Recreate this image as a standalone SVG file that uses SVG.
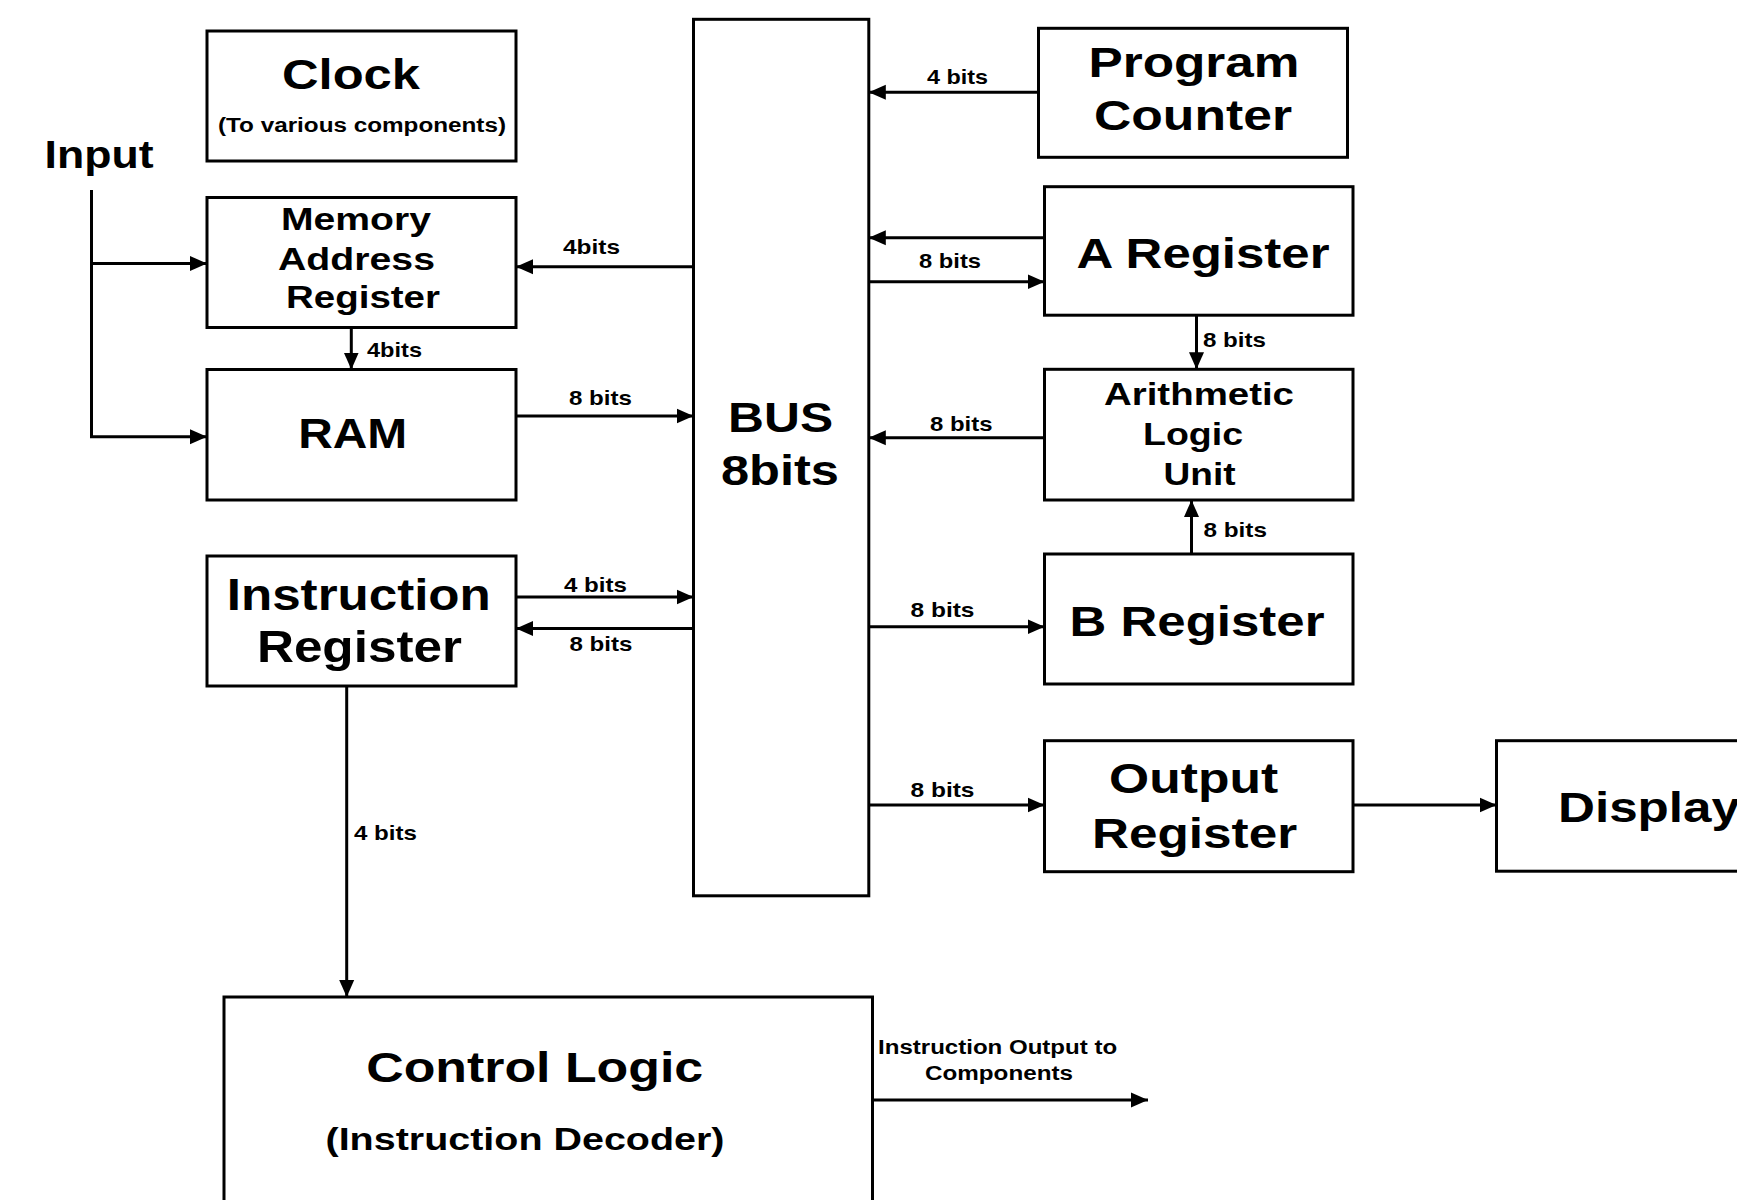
<svg xmlns="http://www.w3.org/2000/svg" width="1737" height="1200" viewBox="0 0 1737 1200">
  <defs>
    <marker id="arrow" markerUnits="userSpaceOnUse" markerWidth="18" markerHeight="16" refX="17" refY="8" orient="auto">
      <path d="M0,0.5 L17,8 L0,15.5 z" fill="#000"/>
    </marker>
    <style>
      .box { fill: #fff; stroke: #000; stroke-width: 3; }
      .wire { fill: none; stroke: #000; stroke-width: 3; marker-end: url(#arrow); }
      .plain { fill: none; stroke: #000; stroke-width: 3; }
      text { font-family: "Liberation Sans", Arial, sans-serif; font-weight: bold; fill: #000; }
      .big { font-size: 43px; text-anchor: middle; }
      .huge { font-size: 45px; text-anchor: middle; }
      .mid { font-size: 31px; text-anchor: middle; }
      .bits { font-size: 21px; }
      .note { font-size: 20px; text-anchor: middle; }
    </style>
  </defs>
  <rect width="1737" height="1200" fill="#fff"/>

  <!-- blocks -->
  <g id="clock">
    <rect class="box" x="207" y="31" width="309" height="130"/>
    <text class="big" x="351" y="89" textLength="138" lengthAdjust="spacingAndGlyphs">Clock</text>
    <text class="note" x="362" y="131.5" font-size="18.6" textLength="288" lengthAdjust="spacingAndGlyphs">(To various components)</text>
  </g>

  <g id="input">
    <text x="44.6" y="168" font-size="38" textLength="109" lengthAdjust="spacingAndGlyphs">Input</text>
  </g>

  <g id="mar">
    <rect class="box" x="207" y="197.5" width="309" height="130"/>
    <text class="mid" x="356" y="230" textLength="150" lengthAdjust="spacingAndGlyphs">Memory</text>
    <text class="mid" x="356.5" y="270" textLength="157" lengthAdjust="spacingAndGlyphs">Address</text>
    <text class="mid" x="363" y="308" textLength="154" lengthAdjust="spacingAndGlyphs">Register</text>
  </g>

  <g id="ram">
    <rect class="box" x="207" y="369.5" width="309" height="130.5"/>
    <text class="big" x="352.7" y="448" textLength="109" lengthAdjust="spacingAndGlyphs">RAM</text>
  </g>

  <g id="instruction-register">
    <rect class="box" x="207" y="556" width="309" height="130"/>
    <text class="huge" x="358.8" y="610" textLength="264" lengthAdjust="spacingAndGlyphs">Instruction</text>
    <text class="huge" x="359.4" y="662" textLength="205" lengthAdjust="spacingAndGlyphs">Register</text>
  </g>

  <g id="control-logic">
    <rect class="box" x="224" y="997" width="648.5" height="220"/>
    <text class="big" x="534.7" y="1082" textLength="337" lengthAdjust="spacingAndGlyphs">Control Logic</text>
    <text class="mid" x="525" y="1150" font-size="28.5" textLength="399" lengthAdjust="spacingAndGlyphs">(Instruction Decoder)</text>
  </g>

  <g id="bus">
    <rect class="box" x="693.5" y="19.3" width="175.3" height="876.5"/>
    <text class="big" x="780.6" y="432" textLength="105" lengthAdjust="spacingAndGlyphs">BUS</text>
    <text class="big" x="780" y="485" textLength="118" lengthAdjust="spacingAndGlyphs">8bits</text>
  </g>

  <g id="program-counter">
    <rect class="box" x="1038.5" y="28.3" width="309" height="129"/>
    <text class="big" x="1194" y="77" textLength="211" lengthAdjust="spacingAndGlyphs">Program</text>
    <text class="big" x="1193" y="130" textLength="198" lengthAdjust="spacingAndGlyphs">Counter</text>
  </g>

  <g id="a-register">
    <rect class="box" x="1044.5" y="186.7" width="308.5" height="128.5"/>
    <text class="big" x="1203" y="268.3" textLength="253" lengthAdjust="spacingAndGlyphs">A Register</text>
  </g>

  <g id="alu">
    <rect class="box" x="1044.5" y="369.3" width="308.5" height="130.7"/>
    <text class="mid" x="1199" y="405" textLength="190" lengthAdjust="spacingAndGlyphs">Arithmetic</text>
    <text class="mid" x="1193" y="445" textLength="100" lengthAdjust="spacingAndGlyphs">Logic</text>
    <text class="mid" x="1199.6" y="485" textLength="72" lengthAdjust="spacingAndGlyphs">Unit</text>
  </g>

  <g id="b-register">
    <rect class="box" x="1044.5" y="554" width="308.5" height="130"/>
    <text class="big" x="1197" y="636" textLength="255" lengthAdjust="spacingAndGlyphs">B Register</text>
  </g>

  <g id="output-register">
    <rect class="box" x="1044.5" y="740.7" width="308.5" height="131"/>
    <text class="big" x="1193.6" y="793" textLength="169" lengthAdjust="spacingAndGlyphs">Output</text>
    <text class="big" x="1194.6" y="848" textLength="205" lengthAdjust="spacingAndGlyphs">Register</text>
  </g>

  <g id="display">
    <rect class="box" x="1496.5" y="740.7" width="260" height="130.5"/>
    <text x="1558" y="822" font-size="43" textLength="182" lengthAdjust="spacingAndGlyphs">Display</text>
  </g>

  <!-- connectors -->
  <g id="connectors">
    <path class="plain" d="M91.5,190 V436.7"/>
    <path class="wire" d="M90,436.7 H207"/>
    <path class="wire" d="M91.5,263.5 H207"/>

    <path class="wire" d="M693.5,266.7 H516"/>
    <path class="wire" d="M351.3,327.5 V369.5"/>
    <path class="wire" d="M516,416 H693.5"/>
    <path class="wire" d="M516,597 H693.5"/>
    <path class="wire" d="M693.5,628.4 H516"/>
    <path class="wire" d="M346.7,686 V997"/>

    <path class="wire" d="M1038.5,92.3 H868.8"/>
    <path class="wire" d="M1044.5,237.7 H868.8"/>
    <path class="wire" d="M868.8,281.7 H1044.5"/>
    <path class="wire" d="M1196.5,315.2 V369.3"/>
    <path class="wire" d="M1044.5,437.7 H868.8"/>
    <path class="wire" d="M1191.5,554 V500"/>
    <path class="wire" d="M868.8,626.7 H1044.5"/>
    <path class="wire" d="M868.8,805 H1044.5"/>
    <path class="wire" d="M1353,805 H1496.5"/>
    <path class="wire" d="M872.6,1100 H1148"/>

    <!-- bit-width labels -->
    <text class="bits" x="563" y="254" textLength="57" lengthAdjust="spacingAndGlyphs">4bits</text>
    <text class="bits" x="367" y="357" textLength="55" lengthAdjust="spacingAndGlyphs">4bits</text>
    <text class="bits" x="569" y="405" textLength="63" lengthAdjust="spacingAndGlyphs">8 bits</text>
    <text class="bits" x="564" y="592" textLength="63" lengthAdjust="spacingAndGlyphs">4 bits</text>
    <text class="bits" x="569.5" y="651" textLength="63" lengthAdjust="spacingAndGlyphs">8 bits</text>
    <text class="bits" x="354" y="840" textLength="63" lengthAdjust="spacingAndGlyphs">4 bits</text>
    <text class="bits" x="927" y="84" textLength="61" lengthAdjust="spacingAndGlyphs">4 bits</text>
    <text class="bits" x="919" y="268" textLength="62" lengthAdjust="spacingAndGlyphs">8 bits</text>
    <text class="bits" x="1203" y="347" textLength="63" lengthAdjust="spacingAndGlyphs">8 bits</text>
    <text class="bits" x="930" y="431" textLength="62.5" lengthAdjust="spacingAndGlyphs">8 bits</text>
    <text class="bits" x="1203.5" y="537" textLength="63.5" lengthAdjust="spacingAndGlyphs">8 bits</text>
    <text class="bits" x="910.5" y="617" textLength="64" lengthAdjust="spacingAndGlyphs">8 bits</text>
    <text class="bits" x="910.5" y="797" textLength="64" lengthAdjust="spacingAndGlyphs">8 bits</text>
    <text class="note" x="997.6" y="1054" font-size="21" textLength="239" lengthAdjust="spacingAndGlyphs">Instruction Output to</text>
    <text class="note" x="999" y="1080" font-size="21" textLength="148" lengthAdjust="spacingAndGlyphs">Components</text>
  </g>
</svg>
